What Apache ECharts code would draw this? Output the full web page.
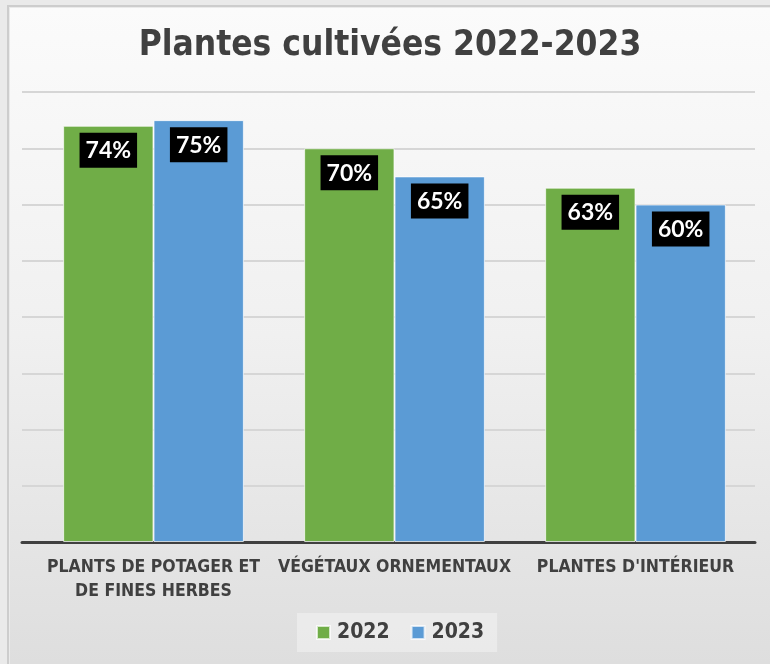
<!DOCTYPE html>
<html>
<head>
<meta charset="utf-8">
<script src="https://cdn.jsdelivr.net/npm/echarts@6/dist/echarts.min.js"></script>
<style>
  html, body { margin: 0; padding: 0; width: 770px; height: 664px; overflow: hidden; background: #eaeaea; }
  #frame { position: absolute; left: 7px; top: 5px; width: 780px; height: 680px; border-left: 2px solid #cdcdcd; border-top: 2px solid #cdcdcd; }
  #chart { position: absolute; left: 10px; top: 8px; width: 760px; height: 656px; }
</style>
</head>
<body>
<div id="frame"></div>
<div id="chart"></div>
<script>
// Share of households growing each kind of plant, by year (%)
const categories = ['PLANTS DE POTAGER ET\nDE FINES HERBES', 'VÉGÉTAUX ORNEMENTAUX', "PLANTES D'INTÉRIEUR"];
const values2022 = [74, 70, 63];
const values2023 = [75, 65, 60];
const seriesNames = ['2022', '2023'];
const axisMax = 80;
const axisStep = 10;

const chart = echarts.init(document.getElementById('chart'), null, { renderer: 'canvas' });

const labelStyle = {
  show: true,
  position: 'insideTop',
  distance: 7,
  formatter: '{c}%',
  color: '#ffffff',
  backgroundColor: '#000000',
  fontFamily: 'Lato',
  fontWeight: 'bold',
  fontSize: 23,
  lineHeight: 24,
  padding: [6, 6, 5, 6]
};

chart.setOption({
  backgroundColor: {
    type: 'linear', x: 0, y: 0, x2: 0, y2: 1,
    colorStops: [
      { offset: 0, color: '#fbfbfb' },
      { offset: 0.5, color: '#f0f0f0' },
      { offset: 1, color: '#dedede' }
    ]
  },
  animation: false,
  title: {
    text: 'Plantes cultivées 2022-2023',
    left: 'center',
    top: 15,
    textStyle: {
      fontFamily: 'DejaVu Sans Condensed',
      fontWeight: 'bold',
      fontSize: 35,
      color: '#404040'
    }
  },
  legend: {
    data: seriesNames,
    left: 287,
    top: 605,
    padding: [9, 13, 9, 19],
    backgroundColor: 'rgba(255,255,255,0.35)',
    icon: 'rect',
    itemWidth: 13,
    itemHeight: 13,
    itemGap: 21,
    textStyle: {
      fontFamily: 'DejaVu Sans Condensed',
      fontWeight: 'bold',
      fontSize: 21,
      color: '#404040',
      padding: [0, 0, 0, 2]
    }
  },
  grid: [
    // wide grid: gridlines and baseline
    { left: 12, right: 15, top: 84, bottom: 122 },
    // bar grid
    { left: 23, right: 14, top: 84, bottom: 122 }
  ],
  xAxis: [
    {
      gridIndex: 0, type: 'category', data: categories,
      axisLine: { show: true, lineStyle: { color: '#404040', width: 3 } },
      axisTick: { show: false }, axisLabel: { show: false }, splitLine: { show: false }
    },
    {
      gridIndex: 1, type: 'category', data: categories,
      axisLine: { show: false }, axisTick: { show: false },
      axisLabel: {
        margin: 13,
        fontFamily: 'DejaVu Sans Condensed',
        fontWeight: 'bold',
        fontSize: 17.5,
        lineHeight: 24,
        color: '#404040',
        interval: 0
      }
    }
  ],
  yAxis: [
    {
      gridIndex: 0, type: 'value', min: 0, max: axisMax, interval: axisStep,
      axisLine: { show: false }, axisTick: { show: false }, axisLabel: { show: false },
      splitLine: { show: true, lineStyle: { color: '#d6d6d6', width: 2 } }
    },
    {
      gridIndex: 1, type: 'value', min: 0, max: axisMax, interval: axisStep,
      axisLine: { show: false }, axisTick: { show: false }, axisLabel: { show: false },
      splitLine: { show: false }
    }
  ],
  series: [
    {
      name: seriesNames[0], type: 'bar', xAxisIndex: 1, yAxisIndex: 1,
      data: values2022,
      barGap: '0%', barCategoryGap: '25%',
      itemStyle: { color: '#70ad47', borderColor: 'rgba(255,255,255,0.7)', borderWidth: 1 },
      label: labelStyle
    },
    {
      name: seriesNames[1], type: 'bar', xAxisIndex: 1, yAxisIndex: 1,
      data: values2023,
      barGap: '0%', barCategoryGap: '25%',
      itemStyle: { color: '#5b9bd5', borderColor: 'rgba(255,255,255,0.7)', borderWidth: 1 },
      label: labelStyle
    }
  ]
});
</script>
</body>
</html>
